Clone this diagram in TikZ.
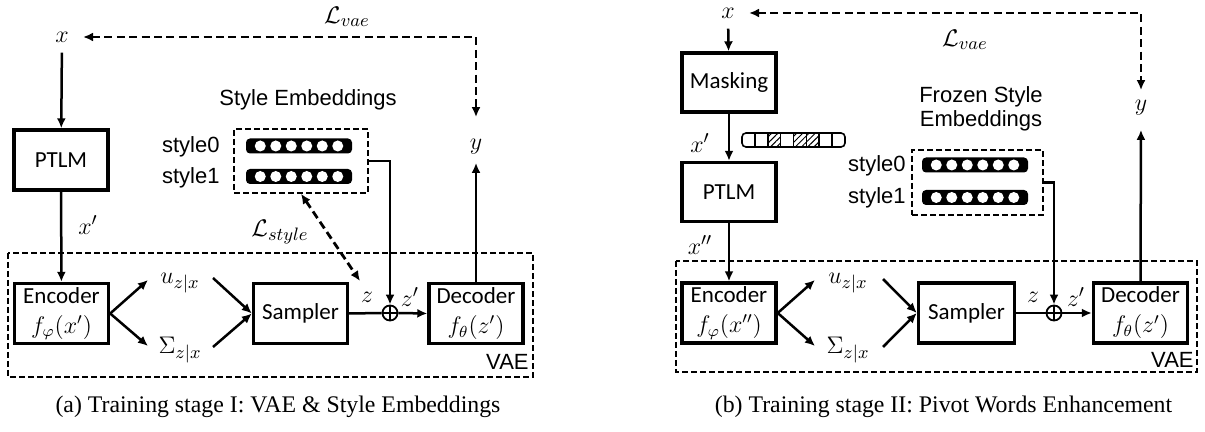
\documentclass[tikz,border=0pt]{standalone}
\usepackage{fontspec}
\newfontfamily\calibrifont{Carlito}
\newfontfamily\arialfont{Liberation Sans}
\newfontfamily\timesfont{Liberation Serif}
\usetikzlibrary{arrows.meta,patterns.meta,calc}
\begin{document}
\begin{tikzpicture}[x=0.5pt,y=-0.5pt,
  box/.style={draw, line width=1.7pt, minimum width=47pt, minimum height=30pt, inner sep=0pt, align=center, font=\calibrifont\fontsize{11.5}{13}\selectfont},
  lbl/.style={inner sep=1pt, font=\fontsize{12.5}{14}\selectfont},
  sty/.style={inner sep=0pt, font=\arialfont\fontsize{11}{12}\selectfont},
  arr/.style={-{Latex[length=5pt,width=4.5pt]}, line width=1.25pt},
  dasharr/.style={{Latex[length=5pt,width=4.5pt]}-{Latex[length=5pt,width=4.5pt]}, line width=1.4pt, dash pattern=on 4pt off 2.2pt},
  vae/.style={draw, line width=0.75pt, dash pattern=on 3pt off 1.5pt},
  embframe/.style={draw, line width=0.75pt, dash pattern=on 3pt off 1.5pt, inner sep=0pt},
  plus/.style={circle, draw, line width=0.9pt, minimum size=7.5pt, inner sep=0pt},
  captxt/.style={font=\timesfont\fontsize{11.9}{14}\selectfont},
  embbar/.pic={\fill[black, rounded corners=2pt] (-53,-7.5) rectangle (53,7.5);
    \foreach \i in {-2.5,-1.5,...,2.5} \fill[white] (\i*15.5,0) circle (2.75pt);}
]
\useasboundingbox (0,0) rectangle (1205,432);

% ================= Panel (a) =================
\node[lbl] (xa) at (62,37) {$x$};
\node[lbl] (ya) at (476,147) {$y$};
\node[lbl] (lvaea) at (347,17) {$\mathcal{L}_{vae}$};
\node[box] (ptlma) at (61,160) {PTLM};
\node[box] (enca) at (61.5,313.5) {Encoder\\[2pt]$f_\varphi(x')$};
\node[box] (sampa) at (300.5,313.5) {Sampler};
\node[box] (deca) at (476,313.5) {Decoder\\[2pt]$f_\theta(z')$};
\node[plus] (opa) at (390,313) {};
\draw[line width=0.9pt] (opa.north) -- (opa.south) (opa.west) -- (opa.east);
\node[lbl] (ua) at (180,283) {$u_{z|x}$};
\node[lbl] (sa) at (180,350) {$\Sigma_{z|x}$};
\node[lbl] (xpa) at (88,225) {$x'$};
\node[lbl] (za) at (367,297) {$z$};
\node[lbl] (zpa) at (410,297) {$z'$};
\node[lbl] (lstyle) at (280,232) {$\mathcal{L}_{style}$};
\draw[vae] (8,253) rectangle (533,377);
\node[sty, anchor=south east] (vaea) at (529,370) {VAE};
\node[sty] (stitle) at (308,100) {Style Embeddings};
\node[embframe, minimum width=67pt, minimum height=32pt] (emba) at (301,161) {};
\pic (e0a) at (299,146) {embbar};
\pic (e1a) at (299,176.5) {embbar};
\node[sty, anchor=east] (s0a) at (220,147) {style0};
\node[sty, anchor=east] (s1a) at (220,178) {style1};
\node[captxt] (capa) at (278,407) {(a) Training stage I: VAE \& Style Embeddings};

\coordinate (ua1) at (148,280);
\coordinate (sa1) at (148,346);
\coordinate (ua2) at (213,278);
\coordinate (sa2) at (213,347);
\coordinate (lsz) at (360,281);

\draw[arr, shorten <=4pt] (xa) -- (ptlma);
\draw[arr] (ptlma) -- (enca);
\draw[arr] (enca.east) -- (ua1);
\draw[arr] (enca.east) -- (sa1);
\draw[arr] (ua2) -- (sampa.west);
\draw[arr] (sa2) -- (sampa.west);
\draw[line width=1.25pt] (sampa.east) -- (opa.west);
\draw[arr] (opa.east) -- (deca.west);
\draw[arr] (emba.east) -| (opa.north);
\draw[arr, shorten >=3pt] (deca.north) -- (ya.south);
\draw[dasharr, shorten <=6pt, shorten >=10pt] (xa.east) -| (ya.north);
\draw[dasharr] (emba.south) -- (lsz);

% ================= Panel (b) =================
\node[lbl] (xb) at (728,13) {$x$};
\node[lbl] (yb) at (1141,108) {$y$};
\node[lbl] (lvaeb) at (965,40) {$\mathcal{L}_{vae}$};
\node[box, minimum height=29.5pt] (maskb) at (729,82.5) {Masking};
\node[box, minimum height=29.5pt] (ptlmb) at (729,192) {PTLM};
\node[box] (encb) at (729,313) {Encoder\\[2pt]$f_\varphi(x'')$};
\node[box, minimum width=48pt] (sampb) at (966.5,313) {Sampler};
\node[box] (decb) at (1140.5,313) {Decoder\\[2pt]$f_\theta(z')$};
\node[plus] (opb) at (1054,313) {};
\draw[line width=0.9pt] (opb.north) -- (opb.south) (opb.west) -- (opb.east);
\node[lbl] (ub) at (848,283) {$u_{z|x}$};
\node[lbl] (sb) at (848,350) {$\Sigma_{z|x}$};
\node[lbl] (xpb) at (700,143) {$x'$};
\node[lbl] (xppb) at (700,245) {$x''$};
\node[lbl] (zb) at (1033,297) {$z$};
\node[lbl] (zpb) at (1076,297) {$z'$};
\draw[vae] (676,261) rectangle (1197,372);
\node[sty, anchor=south east] (vaeb) at (1194,368) {VAE};
\node[sty, align=center] (ftitle) at (981,109) {Frozen Style\\Embeddings};
\node[embframe, minimum width=65.5pt, minimum height=32.5pt] (embb) at (977.5,182.5) {};
\pic (e0b) at (975,165) {embbar};
\pic (e1b) at (975,197.5) {embbar};
\node[sty, anchor=east] (s0b) at (906,166) {style0};
\node[sty, anchor=east] (s1b) at (906,198) {style1};
\node[captxt] (capb) at (943.5,407) {(b) Training stage II: Pivot Words Enhancement};

% masked token bar
\begin{scope}[shift={(742,133)}]
  \foreach \k in {2,4,5}
    \fill[pattern={Lines[angle=45,distance=2.2pt,line width=0.5pt]}] (\k*12.875,0) rectangle ({(\k+1)*12.875},14);
  \foreach \k in {1,...,7}
    \draw[line width=0.8pt] (\k*12.875,0) -- (\k*12.875,14);
  \draw[line width=0.8pt, rounded corners=2pt] (0,0) rectangle (103,14);
\end{scope}

\coordinate (ub1) at (815,280);
\coordinate (sb1) at (815,346);
\coordinate (ub2) at (883,279);
\coordinate (sb2) at (883,347);

\draw[arr, shorten <=4pt] (xb) -- (maskb);
\draw[arr] (maskb) -- (ptlmb);
\draw[arr] (ptlmb) -- (encb);
\draw[arr] (encb.east) -- (ub1);
\draw[arr] (encb.east) -- (sb1);
\draw[arr] (ub2) -- (sampb.west);
\draw[arr] (sb2) -- (sampb.west);
\draw[line width=1.25pt] (sampb.east) -- (opb.west);
\draw[arr] (opb.east) -- (decb.west);
\draw[arr] (embb.east) -| (opb.north);
\draw[arr, shorten >=6pt] (decb.north) -- (yb.south);
\draw[dasharr, shorten <=6pt, shorten >=4pt] (xb.east) -| (yb.north);
\end{tikzpicture}
\end{document}
